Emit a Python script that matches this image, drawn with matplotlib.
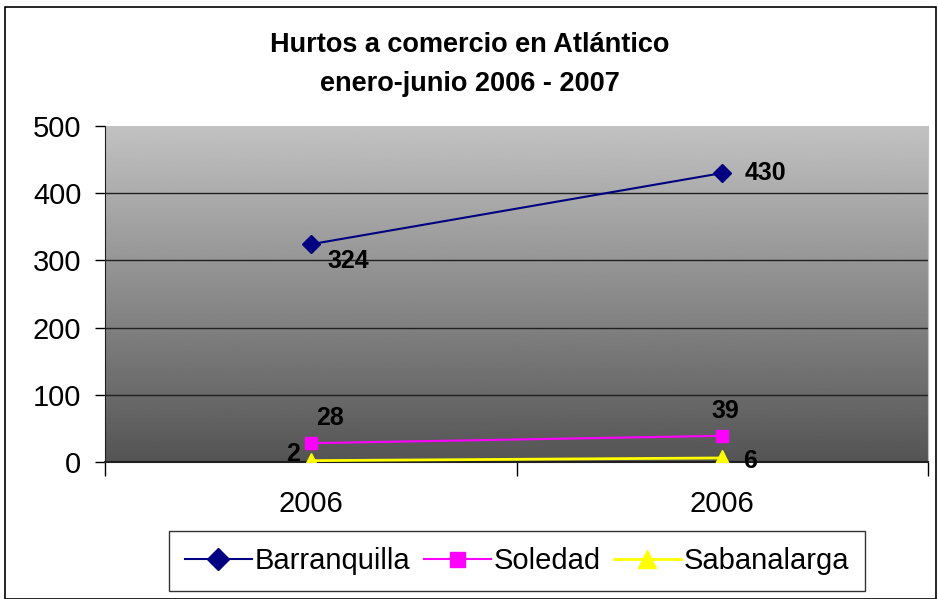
import matplotlib.pyplot as plt
import numpy as np
from matplotlib.patches import Rectangle

plt.rcParams["font.family"] = ["Liberation Sans", "DejaVu Sans"]

# Data
categories = ["2006", "2006"]
series_names = ["Barranquilla", "Soledad", "Sabanalarga"]
barranquilla = [324, 430]
soledad = [28, 39]
sabanalarga = [2, 6]
yticks = [0, 100, 200, 300, 400, 500]

fig = plt.figure(figsize=(9.38, 5.99), dpi=100)
fig.patches.append(Rectangle((5 / 938, 0), 931 / 938, 592 / 599, transform=fig.transFigure,
                             fill=False, edgecolor="black", linewidth=1.2))

W, H = 938, 599
ax = fig.add_axes([105 / W, 1 - 462 / H, (928 - 105) / W, (462 - 126) / H])
x = np.arange(len(categories))
ax.set_xlim(-0.5, 1.5)
ax.set_ylim(0, 500)

# gradient background
grad = np.linspace(0.33, 0.76, 256).reshape(-1, 1)
ax.imshow(grad, cmap="gray", vmin=0, vmax=1, aspect="auto", origin="lower",
          extent=(-0.5, 1.5, 0, 500), zorder=0)
for yv in yticks[1:-1]:
    ax.axhline(yv, color="#202020", linewidth=1.0, zorder=1)

styles = [
    (barranquilla, "#000080", "D", 9, 1.5),
    (soledad, "#FF00FF", "s", 9, 1.5),
    (sabanalarga, "#FFFF00", "^", 11, 2.0),
]
for name, (vals, col, mk, ms, lw) in zip(series_names, styles):
    ax.plot(x, vals, color=col, marker=mk, markersize=ms, linewidth=lw, label=name, zorder=3)

# data labels
label_offsets = {
    (0, 0): (12, -12, "left"), (0, 1): (16, 0, "left"),
    (1, 0): (4, 18, "left"), (1, 1): (2, 18, "center"),
    (2, 0): (-8, 5, "right"), (2, 1): (15, -2, "left"),
}
for si, (vals, *_rest) in enumerate(styles):
    for ci, v in enumerate(vals):
        dx, dy, ha = label_offsets[(si, ci)]
        ax.annotate(str(v), (x[ci], v), xytext=(dx, dy), textcoords="offset points",
                    ha=ha, va="center", fontsize=18, fontweight="bold", zorder=4)

ax.set_yticks(yticks)
ax.set_yticklabels([str(t) for t in yticks], fontsize=21)
ax.set_xticks(x)
ax.set_xticklabels(categories, fontsize=21)
ax.tick_params(axis="x", length=0, pad=20)
ax.tick_params(axis="y", length=7, width=1, pad=10)
# category boundary ticks
ax.set_xticks([-0.5, 0.5, 1.5], minor=True)
ax.tick_params(axis="x", which="minor", length=10, width=1)

ax.spines["top"].set_visible(False)
ax.spines["right"].set_color("#c0c0c0")
ax.spines["left"].set_color("#202020")
ax.spines["bottom"].set_color("#202020")
ax.spines["bottom"].set_linewidth(1.5)

fig.text(470 / W, 1 - 45 / H, "Hurtos a comercio en Atlántico", ha="center", va="center",
         fontsize=19.5, fontweight="bold")
fig.text(470 / W, 1 - 84 / H, "enero-junio 2006 - 2007", ha="center", va="center",
         fontsize=19.5, fontweight="bold")

leg = fig.legend(loc="center", bbox_to_anchor=(517 / W, 1 - 561 / H), ncol=3, fontsize=21,
                 frameon=True, fancybox=False, edgecolor="black", handlelength=2.3,
                 handletextpad=0.1, columnspacing=0.45, borderpad=0.55, borderaxespad=0,
                 markerscale=1.2)
leg.get_frame().set_linewidth(1.0)

fig.savefig("out.png", dpi=100)
